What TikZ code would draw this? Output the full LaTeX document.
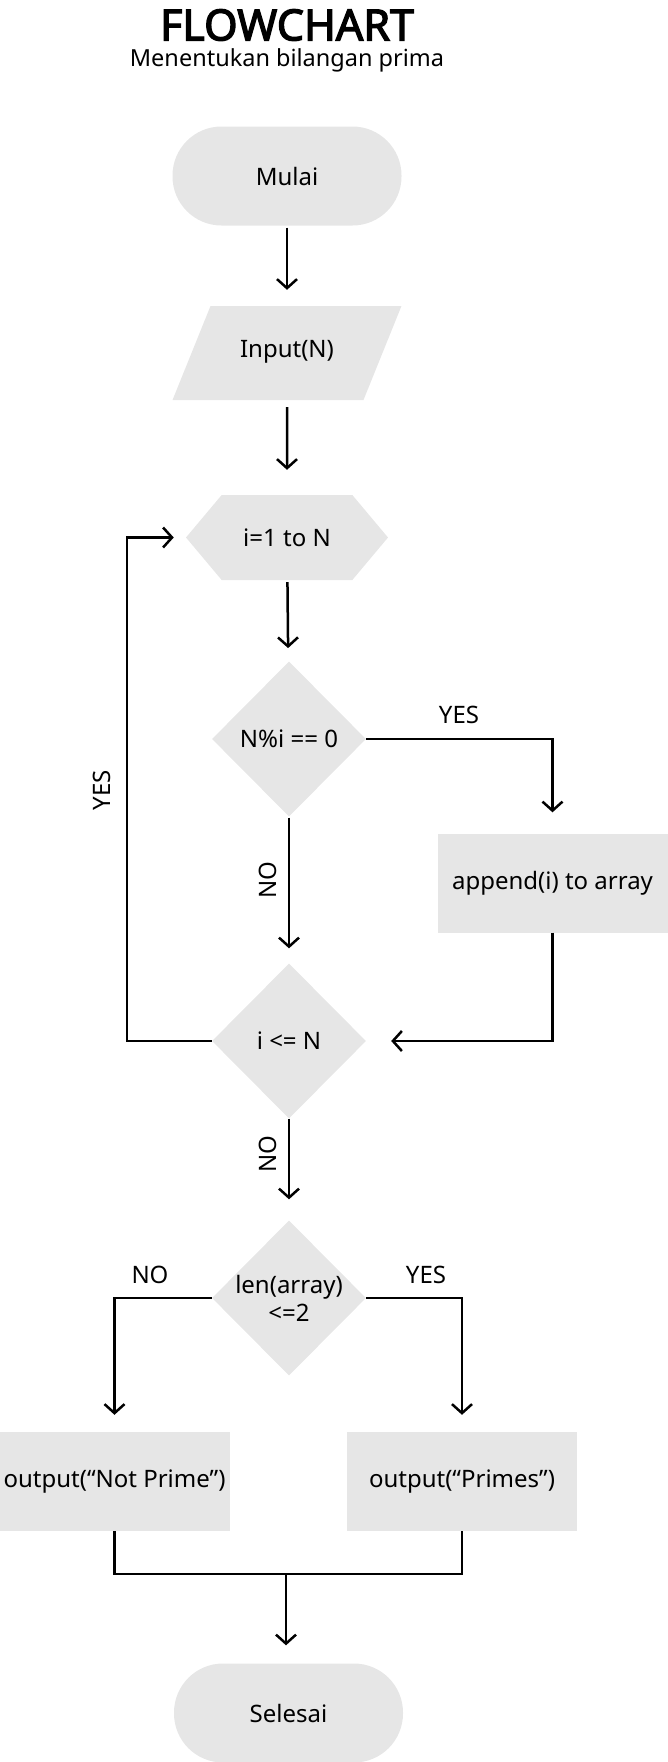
\documentclass[tikz,border=0pt]{standalone}
\usepackage{fontspec}
\setmainfont{Noto Sans}[AutoFakeBold=3]
\usetikzlibrary{shapes.geometric,shapes.symbols,arrows.meta}
\definecolor{boxgray}{HTML}{E6E6E6}
\tikzset{
  base/.style={fill=boxgray, font=\fontsize{24}{28}\selectfont, inner sep=0pt},
  terminal/.style={base, rectangle, rounded corners=49pt, minimum width=229pt, minimum height=99pt},
  io/.style={base, trapezium, trapezium left angle=68, trapezium right angle=112, text width=153pt, align=center, text height=16pt, text depth=7pt, inner ysep=35.5pt},
  loopbox/.style={base, signal, signal to=east and west, signal pointer angle=100, minimum width=202pt, minimum height=85pt},
  decision/.style={base, diamond, minimum width=154pt, minimum height=155pt, align=center},
  process/.style={base, rectangle, minimum width=230pt, minimum height=99pt},
  arr/.style={-{Straight Barb[length=9pt,width=20pt]}, line width=2.5pt},
  link/.style={line width=2.5pt},
  lbl/.style={font=\fontsize{24}{28}\selectfont}
}
\begin{document}
\begin{tikzpicture}[x=1pt, y=-1pt]
\useasboundingbox (0,0) rectangle (668,1762);
\node[font=\bfseries\fontsize{43}{50}\selectfont] (title) at (287,25) {FLOWCHART};
\node[font=\fontsize{23.5}{28}\selectfont] (subtitle) at (287,60) {Menentukan bilangan prima};
\node[terminal] (mulai) at (287,176) {Mulai};
\node[io] (input) at (287,353) {Input(N)};
\node[loopbox] (loop) at (287,537.5) {i=1 to N};
\node[decision] (cek) at (289,739) {N\%i == 0};
\node[process] (append) at (552.5,883) {append(i) to array};
\node[decision] (ulang) at (289,1041) {i <= N};
\node[decision] (jumlah) at (289,1298) {len(array)\\<=2};
\node[process] (notprime) at (114.5,1481.5) {output(“Not Prime”)};
\node[process] (primes) at (462,1481.5) {output(“Primes”)};
\node[terminal] (selesai) at (288.5,1713) {Selesai};
\node[lbl] (yescek) at (459,715) {YES};
\node[lbl, rotate=90] (nocek) at (268,880) {NO};
\node[lbl, rotate=90] (yesulang) at (102,790) {YES};
\node[lbl, rotate=90] (noulang) at (268,1154) {NO};
\node[lbl] (nojumlah) at (150,1275) {NO};
\node[lbl] (yesjumlah) at (426,1275) {YES};
\draw[arr, shorten <=2pt, shorten >=16pt] (mulai) -- (input);
\draw[arr, shorten <=7pt, shorten >=25pt] (input) -- (loop);
\draw[arr, shorten <=2pt, shorten >=14pt] (loop) -- (cek);
\draw[arr, shorten >=21pt] (cek.east) -| (append.north);
\draw[arr, shorten >=25pt] (append.south) |- (ulang.east);
\draw[arr, shorten <=1pt, shorten >=15pt] (cek.south) -- (ulang.north);
\draw[arr, shorten >=12pt] (ulang.west) -- ++(-85,0) |- (loop.west);
\draw[arr, shorten >=21pt] (ulang.south) -- (jumlah.north);
\draw[arr, shorten >=17pt] (jumlah.west) -| (notprime.north);
\draw[arr, shorten >=17pt] (jumlah.east) -| (primes.north);
\draw[link] (notprime.south) -- ++(0,43) -| (primes.south);
\coordinate (gabung) at (286,1574);
\draw[arr, shorten >=18pt] (gabung) -- (gabung |- selesai.north);
\end{tikzpicture}
\end{document}
